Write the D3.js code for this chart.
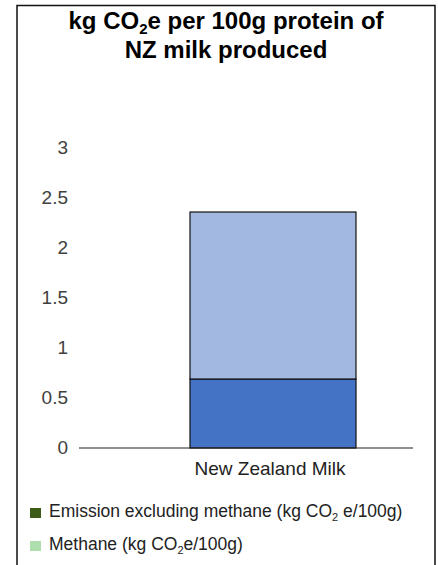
<!DOCTYPE html>
<html>
<head>
<meta charset="utf-8">
<script src="https://cdn.jsdelivr.net/npm/d3@7"></script>
<style>
  html, body { margin: 0; padding: 0; background: #fff; }
  svg { display: block; font-family: "Liberation Sans", Arial, sans-serif; }
</style>
</head>
<body>
<svg id="chart" width="438" height="565"></svg>
<script>
// Chart data
const categories = ["New Zealand Milk"];
const emissionExclMethane = [0.69];
const methane = [1.67];
const yTicks = [0, 0.5, 1, 1.5, 2, 2.5, 3];
const seriesNames = ["Emission excluding methane", "Methane"];
const barColors = ["#4472C4", "#A2B8E0"];
const legendColors = ["#3E5B18", "#AEDDAE"];

const svg = d3.select("#chart");

// Outer frame (left, top, right edges)
svg.append("path")
  .attr("d", "M17,565 V5.5 H435 V565")
  .attr("fill", "none")
  .attr("stroke", "#111")
  .attr("stroke-width", 1.5);

// Title with subscript
const title = svg.append("text")
  .attr("text-anchor", "middle")
  .attr("font-weight", "bold")
  .attr("font-size", 24)
  .attr("fill", "#000");
const t1 = title.append("tspan").attr("x", 226).attr("y", 29);
t1.append("tspan").text("kg CO");
t1.append("tspan").attr("font-size", 15).attr("dy", 5).text("2");
t1.append("tspan").attr("dy", -5).text("e per 100g protein of");
title.append("tspan").attr("x", 226).attr("y", 58).text("NZ milk produced");

// Scales
const plotLeft = 79, plotRight = 413;
const x = d3.scaleBand().domain(categories).range([190, 356]).padding(0);
const y = d3.scaleLinear().domain([0, 3]).range([448, 148]);

// Stack the two series
const rows = categories.map((c, i) => ({ cat: c, e: emissionExclMethane[i], m: methane[i] }));
const stacked = d3.stack().keys(["e", "m"])(rows);

svg.append("g")
  .selectAll("g")
  .data(stacked)
  .join("g")
  .attr("fill", (d, i) => barColors[i])
  .selectAll("rect")
  .data(d => d)
  .join("rect")
  .attr("x", d => x(d.data.cat))
  .attr("width", x.bandwidth())
  .attr("y", d => y(d[1]))
  .attr("height", d => y(d[0]) - y(d[1]))
  .attr("stroke", "#111")
  .attr("stroke-width", 1.2);

// Y axis labels (no axis line)
const yAxis = svg.append("g")
  .attr("transform", "translate(68,0)")
  .call(d3.axisLeft(y).tickValues(yTicks).tickSize(0).tickPadding(0).tickFormat(d3.format("~g")));
yAxis.select(".domain").remove();
yAxis.selectAll("text")
  .attr("font-size", 19)
  .attr("fill", "#404040")
  .attr("dy", "0.28em")
  .attr("font-family", "'Liberation Sans', Arial, sans-serif");

// Baseline across the plot area
svg.append("line")
  .attr("x1", plotLeft).attr("x2", plotRight)
  .attr("y1", y(0)).attr("y2", y(0))
  .attr("stroke", "#222").attr("stroke-width", 1.2);

// Category labels
const xAxis = svg.append("g")
  .attr("transform", `translate(0,${y(0)})`)
  .call(d3.axisBottom(x).tickSize(0).tickPadding(14));
xAxis.select(".domain").remove();
xAxis.selectAll("text")
  .attr("font-size", 19)
  .attr("fill", "#222")
  .attr("dx", "-3")
  .attr("font-family", "'Liberation Sans', Arial, sans-serif");

// Legend
const legend = svg.append("g");
const legendY = [513, 546];
seriesNames.forEach((name, i) => {
  legend.append("rect")
    .attr("x", 30).attr("y", legendY[i] - 5)
    .attr("width", 11).attr("height", 10)
    .attr("fill", legendColors[i]);
  const t = legend.append("text")
    .attr("x", 49).attr("y", legendY[i] + 4)
    .attr("font-size", 17.5)
    .attr("fill", "#222");
  t.append("tspan").text(name + " (kg CO");
  t.append("tspan").attr("font-size", 11).attr("dy", 4).text("2");
  t.append("tspan").attr("dy", -4).text(i === 0 ? " e/100g)" : "e/100g)");
});
</script>
</body>
</html>
